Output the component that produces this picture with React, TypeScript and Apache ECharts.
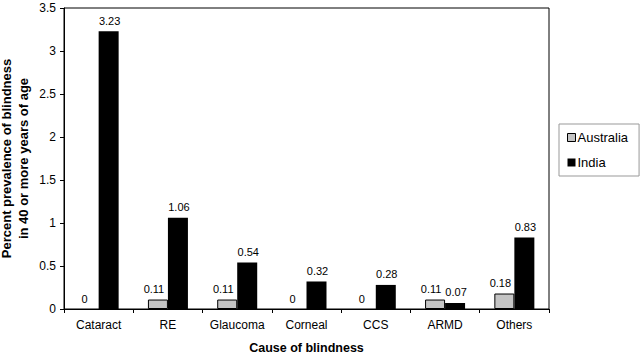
import React, { useEffect, useRef } from "react";
import * as echarts from "echarts";

const categories = ["Cataract", "RE", "Glaucoma", "Corneal", "CCS", "ARMD", "Others"];
const australia = [0, 0.11, 0.11, 0, 0, 0.11, 0.18];
const india = [3.23, 1.06, 0.54, 0.32, 0.28, 0.07, 0.83];
const yTicks = [0, 0.5, 1, 1.5, 2, 2.5, 3, 3.5];

export default function App() {
  const ref = useRef<HTMLDivElement>(null);
  useEffect(() => {
    if (!ref.current) return;
    const chart = echarts.init(ref.current, null, { renderer: "svg" });
    const font = "Arial, 'Liberation Sans', sans-serif";
    const labelBase = {
      show: true,
      position: "top",
      distance: 5,
      color: "#000",
      fontSize: 11,
      fontFamily: font,
      formatter: (p: any) => String(p.value),
    };
    chart.setOption({
      animation: false,
      backgroundColor: "#fff",
      textStyle: { fontFamily: font },
      grid: {
        left: 64,
        right: 91,
        top: 8,
        bottom: 46,
        outerBoundsMode: "none",
        containLabel: false,
        show: true,
        borderColor: "#000",
        borderWidth: 1,
        backgroundColor: "transparent",
      },
      legend: {
        orient: "vertical",
        left: 559,
        top: 124,
        padding: [7, 11, 7, 8],
        itemGap: 12,
        itemWidth: 8,
        itemHeight: 8,
        borderColor: "#999",
        borderWidth: 1,
        textStyle: { fontSize: 13, color: "#000", fontFamily: font, padding: [0, 0, 0, -3] },
        data: [
          { name: "Australia", icon: "rect", itemStyle: { color: "#c4c4c4", borderColor: "#000", borderWidth: 1 } },
          { name: "India", icon: "rect", itemStyle: { color: "#000" } },
        ],
      },
      xAxis: {
        type: "category",
        data: categories,
        boundaryGap: true,
        name: "Cause of blindness",
        nameLocation: "middle",
        nameGap: 32,
        nameMoveOverlap: false,
        nameTextStyle: { fontSize: 12.5, fontWeight: "bold", color: "#000", fontFamily: font },
        axisLine: { lineStyle: { color: "#000", width: 1 } },
        axisTick: { show: true, alignWithLabel: false, interval: 0, length: 4, lineStyle: { color: "#000" } },
        axisLabel: { fontSize: 12, color: "#000", margin: 10, interval: 0, fontFamily: font },
        splitLine: { show: false },
      },
      yAxis: {
        type: "value",
        min: 0,
        max: 3.5,
        interval: 0.5,
        name: "Percent prevalence of blindness\nin 40 or more years of age",
        nameLocation: "middle",
        nameGap: 32,
        nameMoveOverlap: false,
        nameTextStyle: { fontSize: 13, fontWeight: "bold", color: "#000", fontFamily: font, lineHeight: 17 },
        axisLine: { show: true, lineStyle: { color: "#000", width: 1 } },
        axisTick: { show: true, length: 4, lineStyle: { color: "#000" } },
        axisLabel: {
          fontSize: 12,
          color: "#000",
          margin: 8,
          fontFamily: font,
          formatter: (v: number) => (yTicks.includes(v) ? String(v) : ""),
        },
        splitLine: { show: false },
      },
      series: [
        {
          name: "Australia",
          type: "bar",
          data: australia.map((v) => (v === 0 ? { value: v, itemStyle: { borderWidth: 0 } } : v)),
          barWidth: 20,
          barGap: "0%",
          itemStyle: { color: "#c4c4c4", borderColor: "#000", borderWidth: 1 },
          label: { ...labelBase, offset: [-4, 0] },
        },
        {
          name: "India",
          type: "bar",
          data: india,
          barWidth: 20,
          itemStyle: { color: "#000" },
          label: { ...labelBase, offset: [1, 0] },
        },
      ],
    });
    return () => chart.dispose();
  }, []);
  return <div ref={ref} style={{ width: 640, height: 355, position: "absolute", left: 0, top: 0 }} />;
}
